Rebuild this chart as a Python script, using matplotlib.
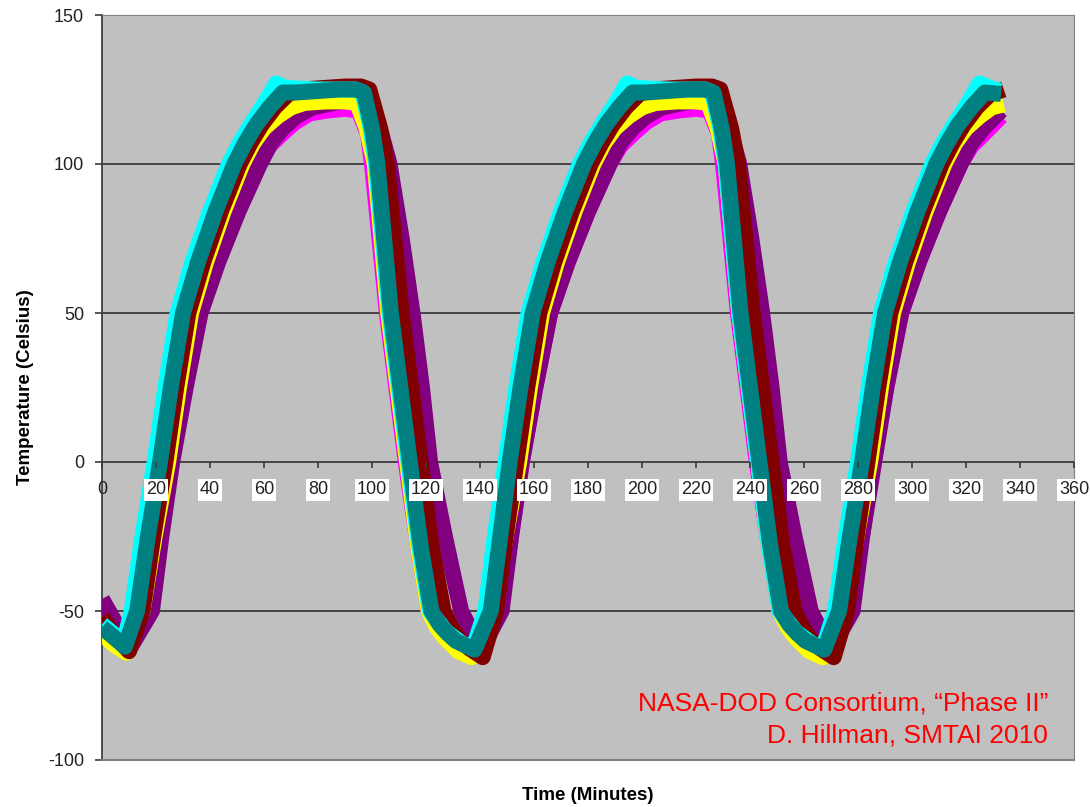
import matplotlib
matplotlib.use("Agg")
import matplotlib.pyplot as plt

# -----------------------------
# Thermal cycle traces (time in minutes, temperature in Celsius)
# -----------------------------
teal_t = [0, 4, 8.5, 13, 17, 21.5, 25.5, 30, 35.5, 42, 49, 53, 57, 62, 67, 72, 80, 88, 94, 97, 100, 102, 107, 114, 118, 122, 125, 128, 131, 134.5, 138,
          144, 147.5, 151, 155, 159.5, 165, 171.5, 178.5, 182.5, 186.5, 191.5, 196.5, 201.5, 209.5, 217.5, 223.5, 226.5, 229.5, 231.5, 236.5, 243.5, 247.5, 251.5, 254.5, 257.5, 260.5, 264, 267.5,
          273, 277, 281.5, 285.5, 290, 295.5, 302, 309, 313, 317, 322, 327, 333]
teal_T = [-55.5, -58.5, -62, -50, -25, 0, 25, 50, 67, 84, 100, 107, 113, 119, 124, 124, 124.5, 125, 125, 124, 112, 100, 50, 0, -28, -50, -54.5, -57.5, -60, -61.5, -63,
          -50, -25, 0, 25, 50, 67, 84, 100, 107, 113, 119, 124, 124, 124.5, 125, 125, 124, 112, 100, 50, 0, -28, -50, -54.5, -57.5, -60, -61.5, -63,
          -50, -25, 0, 25, 50, 67, 84, 100, 107, 113, 119, 124, 123.5]

cyan_t = [0, 4, 8, 11, 15, 19.5, 23.5, 28, 33.5, 40, 47, 51, 55, 60, 64.5, 68, 80, 88, 94, 96.5, 99.5, 101.5, 106.5, 113.5, 117.5, 121.5, 127.5, 133.5, 137.5,
          142, 145.5, 149.5, 153.5, 158, 163.5, 170, 177, 181, 185, 190, 194.5, 198, 209.5, 217.5, 223.5, 226, 229, 231, 236, 243, 247, 251, 257, 263, 267,
          271.5, 275.5, 280, 284, 288.5, 294, 300.5, 307.5, 311.5, 315.5, 320.5, 325, 329, 332.5]
cyan_T = [-54.5, -57.5, -61, -50, -25, 0, 25, 50, 67, 84, 100, 107, 113, 120, 127, 125.5, 125, 125, 125, 124, 112, 100, 50, 0, -28, -50, -57, -61, -62.5,
          -50, -25, 0, 25, 50, 67, 84, 100, 107, 113, 120, 127, 125.5, 125, 125, 125, 124, 112, 100, 50, 0, -28, -50, -57, -61, -62.5,
          -50, -25, 0, 25, 50, 67, 84, 100, 107, 113, 120, 127, 125.5, 124.5]

dred_t = [0, 5, 10, 15, 19, 23.5, 27.5, 32, 37.5, 44, 51, 55, 59, 64, 69, 74, 82, 90, 96, 99, 103, 105.5, 111, 118, 122, 126.5, 129.5, 132.5, 136, 141,
          146, 149.5, 153.5, 157.5, 162, 167.5, 174, 181, 185, 189, 194, 199, 204, 212, 220, 226, 229, 233, 235.5, 241, 248, 252, 256.5, 259.5, 262.5, 266, 271,
          276, 279.5, 283.5, 287.5, 292, 297.5, 304, 311, 315, 319, 324, 329, 334]
dred_T = [-52, -58.5, -63.5, -50, -25, 0, 25, 50, 67, 84, 100, 107, 113, 119, 123.5, 125, 125.5, 126, 126, 125, 112, 100, 50, 0, -28, -50, -55.5, -59.5, -62.5, -65.5,
          -50, -25, 0, 25, 50, 67, 84, 100, 107, 113, 119, 123.5, 125, 125.5, 126, 126, 125, 112, 100, 50, 0, -28, -50, -55.5, -59.5, -62.5, -65.5,
          -50, -25, 0, 25, 50, 67, 84, 100, 107, 113, 119, 123.5, 125]

purp_t = [0, 5, 11, 18.5, 22, 26, 31, 36.5, 43, 50.5, 58.5, 62.5, 67, 72, 78, 86, 92, 97, 100.5, 103.5, 106.5, 111, 115, 118.5, 121.5, 127, 133, 137, 141,
          148, 151.5, 155.5, 160.5, 166, 172.5, 180, 188, 192, 196.5, 201.5, 207.5, 215.5, 221.5, 226.5, 230, 233, 236, 240.5, 244.5, 248, 251, 256.5, 262.5, 266.5, 270.5,
          278, 281.5, 286, 290.5, 296, 302.5, 310, 318, 322, 326.5, 333]
purp_T = [-46, -54, -61.5, -50, -25, 0, 25, 50, 67, 84, 100, 107, 112, 116, 119, 120.5, 121.5, 122.5, 119, 110, 100, 75, 50, 25, 0, -25, -50, -57, -62,
          -50, -25, 0, 25, 50, 67, 84, 100, 107, 112, 116, 119, 120.5, 121.5, 122.5, 119, 110, 100, 75, 50, 25, 0, -25, -50, -57, -62,
          -50, -25, 0, 25, 50, 67, 84, 100, 107, 112, 118]

yel_t = [0, 4, 9, 15, 19.5, 24.5, 28.5, 33, 38.5, 45, 52, 56, 60, 65, 70, 75, 83, 90, 94.5, 98, 101, 106, 113, 117, 121, 124, 127, 132, 137,
         145, 149.5, 154.5, 158.5, 163, 168.5, 175, 182, 186, 190, 195, 200, 205, 213, 220, 224.5, 228, 231, 236, 243, 247, 251, 254, 257, 262, 267,
         275, 279.5, 284.5, 288.5, 293, 298.5, 305, 312, 316, 320, 325, 329.5, 334]
yel_T = [-57.5, -61, -64, -50, -25, 0, 25, 50, 67, 84, 100, 107, 112, 116, 119, 120.5, 121, 121, 120.5, 112, 100, 50, 0, -28, -50, -55.5, -59, -63.5, -65.5,
         -50, -25, 0, 25, 50, 67, 84, 100, 107, 112, 116, 119, 120.5, 121, 121, 120.5, 112, 100, 50, 0, -28, -50, -55.5, -59, -63.5, -65.5,
         -50, -25, 0, 25, 50, 67, 84, 100, 107, 112, 116, 119, 120]

mag_t = [0, 5, 10.5, 17.5, 21.5, 25.5, 30.5, 36, 42.5, 50, 58, 62, 66.5, 71.5, 77, 84, 90, 95, 98.5, 100, 105.5, 112.5, 117, 121, 127, 133, 137.5,
         147.5, 151.5, 155.5, 160.5, 166, 172.5, 180, 188, 192, 196.5, 201.5, 207, 214, 220, 225, 228.5, 230, 235.5, 242.5, 247, 251, 257, 263, 267.5,
         277.5, 281.5, 285.5, 290.5, 296, 302.5, 310, 318, 322, 326.5, 333]
mag_T = [-49.5, -56, -62, -50, -25, 0, 25, 50, 67, 84, 100, 106, 110, 114, 117, 118, 118.5, 118, 110, 100, 50, 0, -28, -50, -57, -61, -63,
         -50, -25, 0, 25, 50, 67, 84, 100, 106, 110, 114, 117, 118, 118.5, 118, 110, 100, 50, 0, -28, -50, -57, -61, -63,
         -50, -25, 0, 25, 50, 67, 84, 100, 106, 110, 116]

x_ticks = list(range(0, 361, 20))
y_ticks = [-100, -50, 0, 50, 100, 150]

# drawn bottom to top
series = [
    (mag_t, mag_T, "#FF00FF"),
    (purp_t, purp_T, "#800080"),
    (yel_t, yel_T, "#FFFF00"),
    (dred_t, dred_T, "#800000"),
    (cyan_t, cyan_T, "#00FFFF"),
    (teal_t, teal_T, "#008080"),
]

plt.rcParams["font.family"] = ["Liberation Sans", "DejaVu Sans"]
plt.rcParams["axes.unicode_minus"] = False

fig = plt.figure(figsize=(10.9, 8.07), dpi=100)
ax = fig.add_axes([102 / 1090, 47 / 807, 972 / 1090, 745 / 807])
ax.set_facecolor("#C0C0C0")

# gridlines under the traces
for y in [-50, 0, 50, 100]:
    ax.axhline(y, color="#3a3a3a", lw=1.3, zorder=1)

for t, T, c in series:
    ax.plot(t, T, color=c, lw=11.5, solid_joinstyle="round", solid_capstyle="butt", zorder=3)

ax.set_xlim(0, 360)
ax.set_ylim(-100, 150)
ax.set_xticks(x_ticks)
ax.set_yticks(y_ticks)

# category axis crosses at zero, labels sit on top of the traces
ax.spines["bottom"].set_position(("data", 0))
ax.spines["bottom"].set_visible(False)
ax.spines["top"].set_color("#808080")
ax.spines["right"].set_color("#808080")
ax.spines["left"].set_color("#404040")
ax.spines["left"].set_linewidth(1.3)
ax.xaxis.set_zorder(5)
ax.tick_params(axis="x", direction="out", length=4, width=1.2, color="#3a3a3a",
               labelsize=13, pad=10, labelcolor="#222222")
ax.tick_params(axis="y", direction="out", length=5, width=1.2, color="#3a3a3a",
               labelsize=13, pad=8, labelcolor="#222222")
for lbl in ax.get_xticklabels()[1:]:
    lbl.set_bbox(dict(facecolor="white", edgecolor="none", boxstyle="square,pad=0.12"))

# bottom border of the plot area
ax.axhline(-100, color="#808080", lw=1.5, zorder=6, clip_on=False)

ax.set_ylabel("Temperature (Celsius)", fontsize=13.5, fontweight="bold", labelpad=10)
fig.text(588 / 1090, 1 - 795 / 807, "Time (Minutes)", ha="center", va="center",
         fontsize=13.5, fontweight="bold")

fig.text(1048 / 1090, 1 - 710 / 807, "NASA-DOD Consortium, \u201cPhase II\u201d",
         ha="right", va="baseline", color="#FF0000", fontsize=19)
fig.text(1048 / 1090, 1 - 742 / 807, "D. Hillman, SMTAI 2010",
         ha="right", va="baseline", color="#FF0000", fontsize=19)

fig.savefig("out.png", dpi=100)
